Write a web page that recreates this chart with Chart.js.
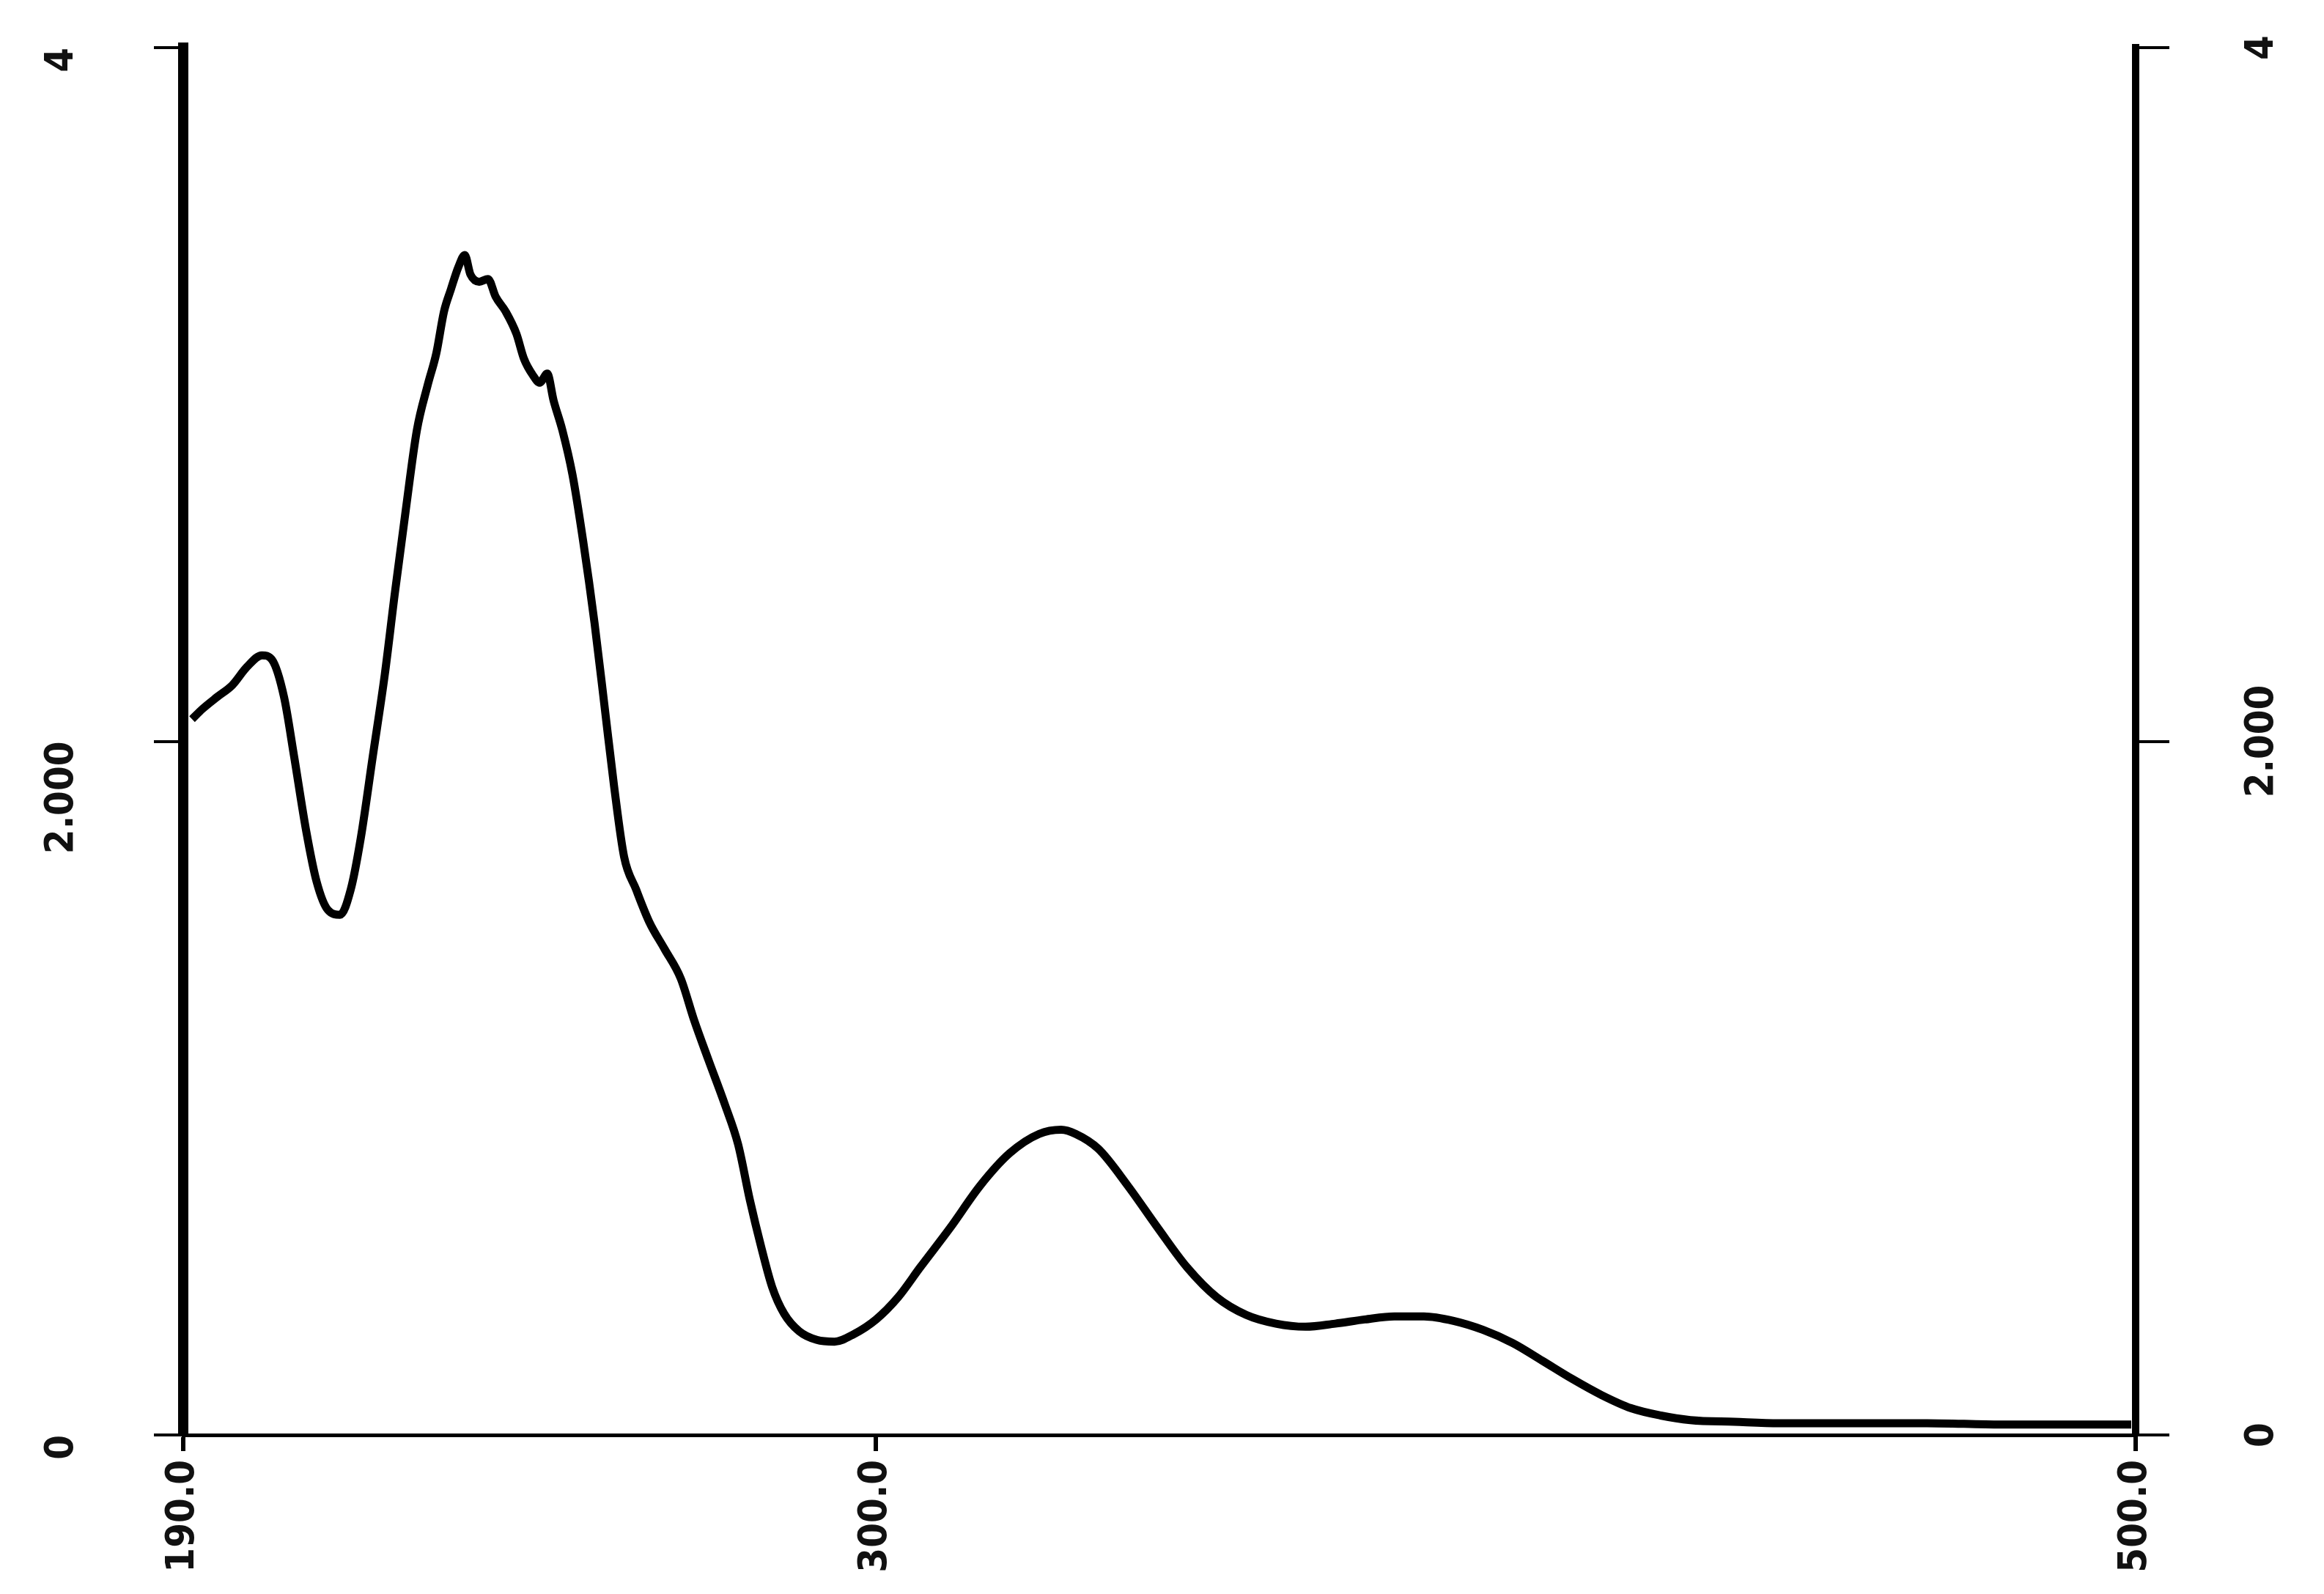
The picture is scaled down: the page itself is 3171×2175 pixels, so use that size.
<!DOCTYPE html>
<html>
<head>
<meta charset="utf-8">
<script src="https://cdn.jsdelivr.net/npm/chart.js@4/dist/chart.umd.min.js"></script>
<style>
  html, body { margin: 0; padding: 0; background: #ffffff; }
  #wrap { width: 3171px; height: 2175px; position: relative; }
</style>
</head>
<body>
<div id="wrap"><canvas id="c" width="3171" height="2175"></canvas></div>
<script>
// ---- data ----
const wavelengths = [191.4, 193.1, 195.4, 197.8, 200.1, 202.5, 204.1, 206.0, 207.6, 209.5,
  211.2, 213.0, 214.9, 216.6, 218.2, 220.1, 222.0, 223.6, 225.3, 227.1,
  228.8, 230.2, 231.4, 232.5, 233.7, 234.7, 235.6, 237.0, 238.4, 239.6,
  241.2, 242.9, 244.1, 245.5, 246.6, 247.8, 248.8, 250.2, 251.8, 253.5,
  255.3, 257.0, 258.4, 260.0, 261.9, 264.0, 266.4, 269.0, 271.1, 273.4,
  276.0, 278.1, 280.0, 281.7, 283.5, 285.4, 287.8, 290.6, 293.4, 296.5,
  300.0, 303.5, 307.0, 311.8, 316.5, 321.2, 325.9, 329.4, 331.7, 335.3,
  340.0, 344.7, 349.4, 354.1, 358.8, 363.5, 368.2, 372.9, 377.6, 382.3,
  387.0, 391.7, 396.4, 401.1, 405.8, 410.5, 415.2, 419.9, 424.6, 429.3,
  436.3, 443.4, 455.1, 466.9, 478.6, 490.4, 499.3];
const absorbance = [2.064, 2.094, 2.128, 2.162, 2.214, 2.248, 2.235, 2.128, 1.957, 1.744,
  1.594, 1.513, 1.500, 1.573, 1.722, 1.957, 2.192, 2.427, 2.662, 2.897,
  3.026, 3.120, 3.239, 3.303, 3.368, 3.402, 3.346, 3.325, 3.333, 3.282,
  3.239, 3.175, 3.103, 3.056, 3.034, 3.060, 2.983, 2.897, 2.769, 2.577,
  2.342, 2.085, 1.872, 1.667, 1.573, 1.479, 1.402, 1.316, 1.197, 1.081,
  0.953, 0.838, 0.675, 0.547, 0.427, 0.350, 0.299, 0.274, 0.269, 0.291,
  0.333, 0.397, 0.483, 0.598, 0.718, 0.812, 0.868, 0.880, 0.868, 0.825,
  0.718, 0.598, 0.483, 0.397, 0.346, 0.321, 0.312, 0.321, 0.333, 0.342,
  0.342, 0.329, 0.303, 0.265, 0.214, 0.162, 0.115, 0.077, 0.056, 0.043,
  0.038, 0.034, 0.034, 0.034, 0.030, 0.030, 0.030];
const xTickValues = [190, 300, 500];
const xTickLabels = ["190.0", "300.0", "500.0"];
const yTickValues = [0, 2, 4];
const yTickLabels = ["0", "2.000", "4"];

const points = wavelengths.map((w, i) => ({ x: w, y: absorbance[i] }));
const tickFont = { family: "'DejaVu Sans Condensed', 'DejaVu Sans Mono', monospace", size: 54, weight: 'bold' };

function fixV(width) {
  return s => { s.width = width; s.paddingTop = 0; s.paddingBottom = 0; };
}

new Chart(document.getElementById('c'), {
  type: 'line',
  data: {
    datasets: [{
      data: points,
      borderColor: '#000000',
      borderWidth: 11,
      pointRadius: 0,
      fill: false,
      cubicInterpolationMode: 'monotone'
    }]
  },
  options: {
    responsive: false,
    animation: false,
    devicePixelRatio: 1,
    layout: { padding: { top: 65, left: 0, right: 0, bottom: 0 } },
    plugins: { legend: { display: false }, tooltip: { enabled: false } },
    scales: {
      x: {
        type: 'linear',
        position: 'bottom',
        min: 190, max: 500,
        afterBuildTicks: s => { s.ticks = xTickValues.map(v => ({ value: v })); },
        afterFit: s => { s.height = 217; s.paddingLeft = 0; s.paddingRight = 0; },
        ticks: {
          minRotation: 90, maxRotation: 90,
          padding: 12,
          color: '#111',
          font: tickFont,
          callback: v => xTickLabels[xTickValues.indexOf(v)]
        },
        grid: { drawOnChartArea: false, drawTicks: true, tickLength: 22, color: '#000', lineWidth: 6 },
        border: { display: true, color: '#000', width: 5 }
      },
      y: {
        type: 'linear',
        position: 'left',
        min: 0, max: 4,
        afterBuildTicks: s => { s.ticks = yTickValues.map(v => ({ value: v })); },
        afterFit: fixV(250),
        ticks: {
          minRotation: 90, maxRotation: 90,
          padding: 125,
          color: '#111',
          font: tickFont,
          callback: v => yTickLabels[yTickValues.indexOf(v)]
        },
        grid: { drawOnChartArea: false, drawTicks: true, tickLength: 40, color: '#000', lineWidth: 4 },
        border: { display: true, color: '#000', width: 14 }
      },
      y2: {
        type: 'linear',
        position: 'right',
        min: 0, max: 4,
        afterBuildTicks: s => { s.ticks = yTickValues.map(v => ({ value: v })); },
        afterFit: fixV(257),
        ticks: {
          minRotation: 90, maxRotation: 90,
          padding: 50,
          crossAlign: 'center',
          color: '#111',
          font: tickFont,
          callback: v => yTickLabels[yTickValues.indexOf(v)]
        },
        grid: { drawOnChartArea: false, drawTicks: true, tickLength: 46, color: '#000', lineWidth: 4 },
        border: { display: true, color: '#000', width: 10 }
      }
    }
  }
});
</script>
</body>
</html>
